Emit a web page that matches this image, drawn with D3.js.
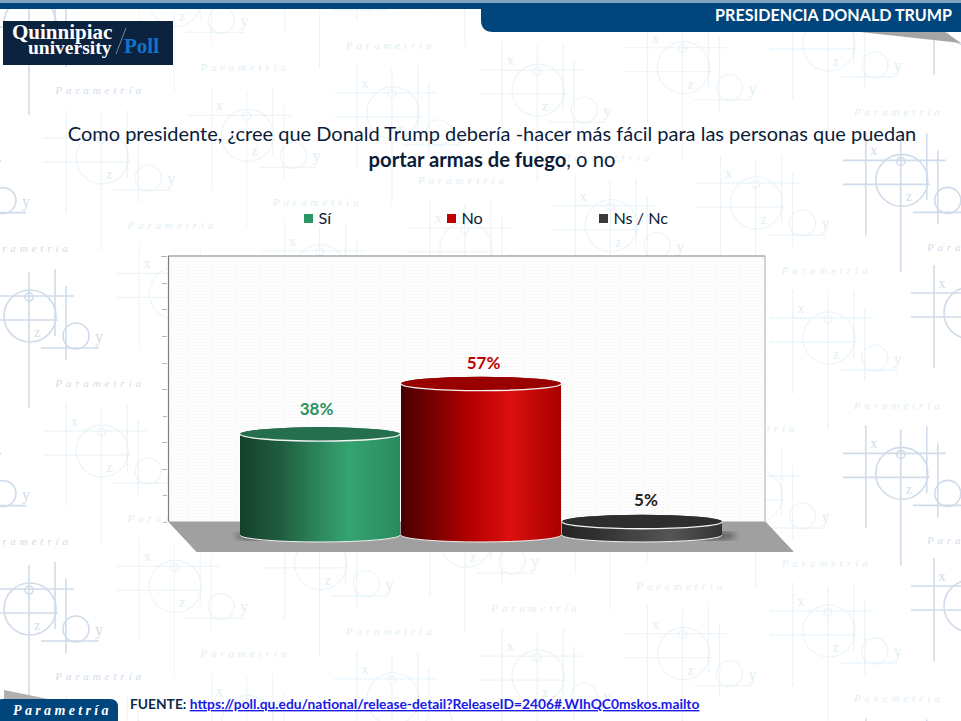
<!DOCTYPE html>
<html><head><meta charset="utf-8">
<script src="https://cdn.jsdelivr.net/npm/d3@7/dist/d3.min.js"></script>
<style>html,body{margin:0;padding:0;background:#fff;overflow:hidden}svg{display:block}text{font-family:Lato,sans-serif}</style>
</head><body><svg id="c" width="961" height="721"></svg>
<script>
const categories = ["Sí","No","Ns / Nc"];
const values = [38,57,5];
const valueLabels = ["38%","57%","5%"];
const tickValues = [0,10,20,30,40,50,60,70,80,90,100];

const svg = d3.select("#c");
const defs = svg.append("defs");
const W=961,H=721;
const palette = {
  "Sí":{label:"#2a9462",key:"#2a9462",top:"#256f4e",stops:["#14412b","#1f5c3e","#2a8058","#34a471","#2a8a5f"]},
  "No":{label:"#c00000",key:"#c00000",top:"#990000",stops:["#470000","#840000","#b80000","#dc0f0f","#a80000"]},
  "Ns / Nc":{label:"#222222",key:"#3a3a3a",top:"#2e2e2e",stops:["#242424","#333333","#444444","#555555","#333333"]}
};
categories.forEach((c,i)=>{
  const g=defs.append("linearGradient").attr("id","g"+i);
  palette[c].stops.forEach((s,k)=>g.append("stop").attr("offset",[0,.25,.45,.68,1][k]).attr("stop-color",s));
});
const tex=defs.append("pattern").attr("id","tex").attr("width",3).attr("height",3).attr("patternUnits","userSpaceOnUse");
tex.append("rect").attr("width",3).attr("height",3).attr("fill","#fdfdfd");
tex.append("rect").attr("width",1).attr("height",1).attr("fill","#f1f1f1");
defs.append("filter").attr("id","blur").append("feGaussianBlur").attr("stdDeviation",3);

/* watermark */
const wm=svg.append("g");
function motif(cx,cy,dark){
  const col=dark?"#d0dcea":"#e2eef4";
  const serif="'Liberation Serif',serif";
  const g=wm.append("g").attr("transform",`translate(${cx},${cy})`).attr("fill","none").attr("stroke",col).attr("stroke-width",dark?1.6:1.3).attr("stroke-dasharray",dark?null:"1.2 0.8");
  [[0,0,26],[-1,-19,4],[46,20,13]].forEach(d=>g.append("circle").attr("cx",d[0]).attr("cy",d[1]).attr("r",d[2]));
  [[-36,-48,55],[-1,-44,92],[25,-47,20],[36,-30,44]].forEach(d=>g.append("line").attr("x1",d[0]).attr("x2",d[0]).attr("y1",d[1]).attr("y2",d[2]));
  [[-20,-59,44],[4,-59,28],[32,11,69]].forEach(d=>g.append("line").attr("y1",d[0]).attr("y2",d[0]).attr("x1",d[1]).attr("x2",d[2]));
  [["x",-28,-25,14],["z",7,21,14],["y",69,26,16]].filter(d=>{
    const px=cx+d[1],py=cy+d[2];return px>5&&px<W-5&&py>14&&py<H-2;
  }).forEach(d=>g.append("text").text(d[0]).attr("x",d[1]).attr("y",d[2]).attr("text-anchor","middle").attr("stroke","none").attr("fill",col).style("font-family",serif).style("font-size",d[3]+"px"));
  if(cx+70>-20&&cx+70<W+20&&cy+71>10&&cy+71<H)
    g.append("text").text("Parametría").attr("x",70).attr("y",71).attr("text-anchor","middle").attr("stroke","none").attr("fill",col).style("font-family",serif).style("font-style","italic").style("font-size","11px").style("letter-spacing","3.9px");
}
for(let j=-1;j<3;j++)for(let k=0;k<7;k++){
  const ax=30+145.3*k, ay=316-22.6*k+293*j;
  if(ay>-100&&ay<H+50) motif(ax,ay,k===0||k===6);
  const bx=-43+145.3*k, by=180.6-22.6*k+293*j;
  if(by>-100&&by<H+50) motif(bx,by,k===0);
}
motif(970,20,true);motif(970,313,true);motif(970,606,true);

/* header */
svg.append("rect").attr("x",0).attr("y",0).attr("width",W).attr("height",3).attr("fill","#7fa3c0");
svg.append("rect").attr("x",0).attr("y",3).attr("width",W).attr("height",6).attr("fill","#00457c");
svg.append("path").attr("d","M860,32 L945,32 L961,43 Z").attr("fill","#a5a5a5");
svg.append("path").attr("d","M481,3 H950 Q958,3 961,8 V32 H493 Q481,32 481,20 Z").attr("fill","#00457c");
svg.append("text").text("PRESIDENCIA DONALD TRUMP").attr("x",952).attr("y",21).attr("text-anchor","end").attr("fill","#fff").style("font-weight",700).style("font-size","16.1px");

/* logo */
const logo=svg.append("g");
const lserif="'Liberation Serif',serif";
logo.append("rect").attr("x",3).attr("y",21).attr("width",170).attr("height",44).attr("fill","#0c2340");
logo.append("text").text("Quinnipiac").attr("x",12).attr("y",38.5).attr("fill","#fff").style("font-family",lserif).style("font-weight",700).style("font-size","21px");
logo.append("text").text("university").attr("x",28).attr("y",53.5).attr("fill","#fff").style("font-family",lserif).style("font-weight",700).style("font-size","19.5px");
logo.append("line").attr("x1",126).attr("y1",28).attr("x2",116).attr("y2",54).attr("stroke","#8fa0b5").attr("stroke-width",.8);
logo.append("text").text("Poll").attr("x",124).attr("y",53).attr("fill","#1273c8").style("font-family",lserif).style("font-weight",700).style("font-size","21px");

/* title */
const navy="#0b1c38";
svg.append("text").text("Como presidente, ¿cree que Donald Trump debería -hacer más fácil para las personas que puedan")
  .attr("x",492).attr("y",141).attr("text-anchor","middle").attr("fill",navy).style("font-size","20px");
const t2=svg.append("text").attr("x",492).attr("y",167).attr("text-anchor","middle").attr("fill",navy).style("font-size","20.2px");
t2.append("tspan").text("portar armas de fuego").style("font-weight",700);
t2.append("tspan").text(", o no");

/* legend */
const legendX=d3.scaleOrdinal().domain(categories).range([304,447,599]);
const lg=svg.selectAll(".lg").data(categories).join("g").attr("transform",d=>`translate(${legendX(d)},214)`);
lg.append("rect").attr("width",9).attr("height",9).attr("fill",d=>palette[d].key);
lg.append("text").text(d=>d).attr("x",14.5).attr("y",10).attr("fill",navy).style("font-size","16.2px");

/* chart */
const x=d3.scaleBand().domain(categories).range([239.5,722.5]);
const y=d3.scaleLinear().domain([0,100]).range([521.5,256]);
const depth=13.5, ry=7;
const left=168.5,right=765,floorDX=28,floorDY=30;
svg.append("path").attr("d",`M${left},${y(0)} H${right} L${right+floorDX},${y(0)+floorDY} H${left+floorDX} Z`).attr("fill","#a0a0a0").attr("stroke","#8c8c8c").attr("stroke-width",.7);
svg.append("rect").attr("x",left).attr("y",y(100)).attr("width",right-left).attr("height",y(0)-y(100)).attr("fill","url(#tex)");
svg.append("path").attr("d",`M${left},${y(0)} V${y(100)} H${right}`).attr("fill","none").attr("stroke","#7f7f7f").attr("stroke-width",1.2);
svg.append("line").attr("x1",right).attr("x2",right).attr("y1",y(100)).attr("y2",y(0)).attr("stroke","#ababab").attr("stroke-width",1);
const ax=svg.append("g").attr("transform",`translate(${left},0)`).call(d3.axisLeft(y).tickValues(tickValues).tickSize(0).tickPadding(1.5).tickFormat(d=>d+"%"));
ax.select(".domain").remove();
ax.selectAll("text").style("font-size","2.6px").attr("fill","#444");

/* shadows */
svg.append("ellipse").attr("cx",x("Sí")+20).attr("cy",y(0)+depth+1).attr("rx",24).attr("ry",4).attr("fill","#555").attr("filter","url(#blur)");
svg.append("ellipse").attr("cx",x("Ns / Nc")+x.bandwidth()-10).attr("cy",y(0)+depth+1).attr("rx",24).attr("ry",4).attr("fill","#555").attr("filter","url(#blur)");

/* cylinders: red drawn last so it sits in front */
const rows=categories.map((c,i)=>({c,i,v:values[i],l:valueLabels[i]}));
const order=[rows[0],rows[2],rows[1]];
const cyl=svg.selectAll(".cyl").data(order).join("g");
function body(d){
  const x0=x(d.c)+.5,x1=x(d.c)+x.bandwidth()-.5,rx=(x1-x0)/2,t=y(d.v)+depth,b=y(0)+depth;
  return `M${x0},${t} A${rx},${ry} 0 0 1 ${x1},${t} V${b} A${rx},${ry} 0 0 1 ${x0},${b} Z`;
}
function arc(d,base){
  const x0=x(d.c)+.5,x1=x(d.c)+x.bandwidth()-.5,rx=(x1-x0)/2;
  return `M${x0},${base} A${rx},${ry} 0 0 0 ${x1},${base}`;
}
cyl.append("path").attr("d",body).attr("fill",d=>`url(#g${d.i})`);
cyl.append("path").attr("d",d=>arc(d,y(0)+depth)).attr("fill","none").attr("stroke","#f0f0f0").attr("stroke-width",1);
cyl.append("ellipse").attr("cx",d=>x(d.c)+x.bandwidth()/2).attr("cy",d=>y(d.v)+depth).attr("rx",x.bandwidth()/2-.5).attr("ry",ry).attr("fill",d=>palette[d.c].top);
cyl.append("path").attr("d",d=>arc(d,y(d.v)+depth)).attr("fill","none").attr("stroke","#f4f4f4").attr("stroke-width",1.4);

const nudgeX=[-3.5,2.5,4], nudgeY=[-19,-14.5,-15.7];
svg.selectAll(".val").data(rows).join("text").text(d=>d.l)
  .attr("x",d=>x(d.c)+x.bandwidth()/2+nudgeX[d.i]).attr("y",d=>y(d.v)+depth+nudgeY[d.i])
  .attr("text-anchor","middle").attr("fill",d=>palette[d.c].label).style("font-weight",700).style("font-size","17px");

/* footer */
svg.append("path").attr("d","M4,690 L48,699 H4 Z").attr("fill","#b0b0b0");
svg.append("path").attr("d","M0,700 Q0,699 2,699 H110 Q118,699 118,707 V721 H0 Z").attr("fill","#00457c");
svg.append("text").text("Parametría").attr("x",13).attr("y",715).attr("fill","#fff").style("font-family",lserif).style("font-style","italic").style("font-weight",700).style("font-size","14px").style("letter-spacing","3.35px");
const f=svg.append("text").attr("x",130).attr("y",709).style("font-weight",700).style("font-size","13.8px");
f.append("tspan").text("FUENTE: ").attr("fill","#0b2a50");
f.append("tspan").text("https://poll.qu.edu/national/release-detail?ReleaseID=2406#.WIhQC0mskos.mailto").attr("fill","#1a1ae6").style("text-decoration","underline");
</script></body></html>
